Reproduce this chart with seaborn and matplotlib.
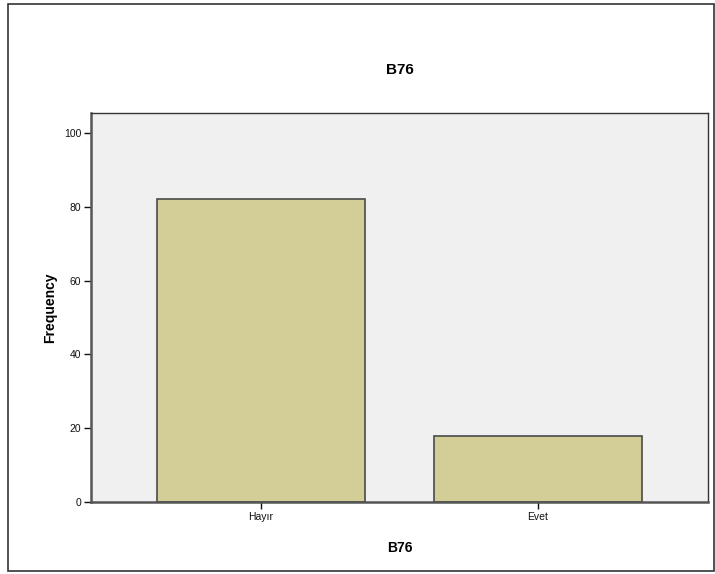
import matplotlib
matplotlib.use("Agg")
import matplotlib.pyplot as plt
import seaborn as sns
import pandas as pd
from matplotlib.patches import Rectangle

categories = ["Hayır", "Evet"]
frequencies = [82, 18]
y_ticks = [0, 20, 40, 60, 80, 100]

df = pd.DataFrame({"B76": categories, "Frequency": frequencies})

sns.set_theme(style="white")
plt.rcParams['font.family'] = ['Liberation Sans', 'DejaVu Sans']
plt.rcParams['text.color'] = '#000000'
plt.rcParams['axes.labelcolor'] = '#000000'

fig = plt.figure(figsize=(7.15, 5.74), dpi=100)
ax = fig.add_axes([91/715, 1-502/574, (708-91)/715, (502-113)/574])
ax.set_facecolor("#F0F0F0")

sns.barplot(data=df, x="B76", y="Frequency", order=categories, color="#D3CE97",
            saturation=1, width=0.75, edgecolor="#4a4a4a", linewidth=1.2, ax=ax)

ax.set_xlim(-0.614, 1.614)
ax.set_ylim(0, 105.4)
ax.set_yticks(y_ticks)
ax.set_yticklabels([str(v) for v in y_ticks])
ax.tick_params(axis="both", which="both", labelsize=7.5, colors="#111111",
               length=5, width=1, direction="out", left=True, bottom=True, pad=2)
for s in ["left", "bottom"]:
    ax.spines[s].set_color("#555555")
    ax.spines[s].set_linewidth(1.8)
for s in ["top", "right"]:
    ax.spines[s].set_color("#333333")
    ax.spines[s].set_linewidth(1.0)
    ax.spines[s].set_visible(True)

ax.set_xlabel("B76", fontsize=10, fontweight="bold", labelpad=14)
ax.set_ylabel("Frequency", fontsize=10, fontweight="bold", labelpad=5)

fig.text(399.5/715, 1-70/574, "B76", ha="center", va="center", fontsize=11, fontweight="bold")

fig.patches.append(Rectangle((8/715, 3/574), (714-8)/715, (571-4)/574, transform=fig.transFigure,
                             fill=False, edgecolor="#333333", linewidth=1.2, figure=fig))

fig.savefig("out.png", dpi=100, facecolor="white")
